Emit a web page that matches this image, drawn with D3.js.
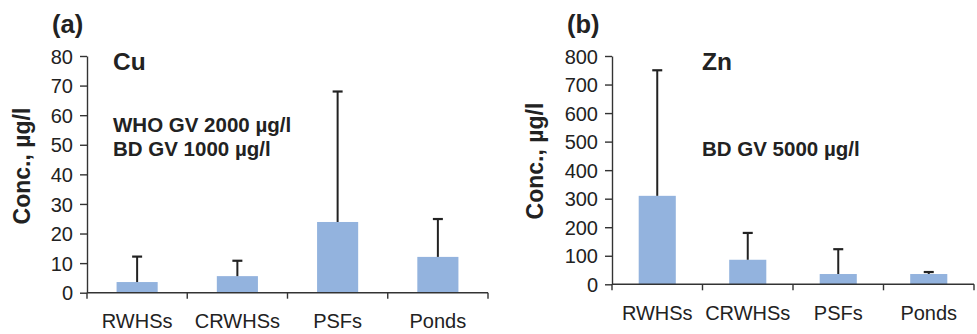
<!DOCTYPE html>
<html>
<head>
<meta charset="utf-8">
<script src="https://cdn.jsdelivr.net/npm/d3@7"></script>
<style>
  body { margin: 0; background: #fff; }
  svg { display: block; font-family: "Liberation Sans", Arial, Helvetica, sans-serif; }
</style>
</head>
<body>
<svg id="chart" width="977" height="334"></svg>
<script>
const categories = ['RWHSs', 'CRWHSs', 'PSFs', 'Ponds'];

// Cu: mean and top of the error bar, µg/l
const cuMean = [3.6, 5.6, 23.9, 12.1];
const cuUpper = [12.2, 10.8, 68, 24.9];
const cuTicks = [0, 10, 20, 30, 40, 50, 60, 70, 80];

// Zn: mean and top of the error bar, µg/l
const znMean = [310, 86, 36, 36];
const znUpper = [750, 180, 123, 43];
const znTicks = [0, 100, 200, 300, 400, 500, 600, 700, 800];

const svg = d3.select('#chart');
const ink = '#222';
const barColor = '#93b3de';
const font = '"Liberation Sans", Arial, Helvetica, sans-serif';

function drawPanel(p) {
    const x = d3.scaleBand()
        .domain(categories)
        .range([p.left, p.right])
        .paddingInner(0.59)
        .paddingOuter(0.295);

    const y = d3.scaleLinear()
        .domain([0, p.ticks[p.ticks.length - 1]])
        .range([p.bottom, p.top]);

    const g = svg.append('g');

    // bars
    g.selectAll('rect.bar')
        .data(p.mean)
        .enter()
        .append('rect')
        .attr('class', 'bar')
        .attr('x', (d, i) => x(categories[i]))
        .attr('y', d => y(d))
        .attr('width', x.bandwidth())
        .attr('height', d => p.bottom - y(d))
        .attr('fill', barColor);

    // error bars (upper half only)
    const cx = i => x(categories[i]) + x.bandwidth() / 2;
    g.selectAll('line.err')
        .data(p.upper)
        .enter()
        .append('line')
        .attr('x1', (d, i) => cx(i))
        .attr('x2', (d, i) => cx(i))
        .attr('y1', (d, i) => y(p.mean[i]))
        .attr('y2', d => y(d))
        .attr('stroke', ink)
        .attr('stroke-width', 2);
    g.selectAll('line.cap')
        .data(p.upper)
        .enter()
        .append('line')
        .attr('x1', (d, i) => cx(i) - 5)
        .attr('x2', (d, i) => cx(i) + 5)
        .attr('y1', d => y(d))
        .attr('y2', d => y(d))
        .attr('stroke', ink)
        .attr('stroke-width', 2.2);

    // y axis
    const yAxis = d3.axisLeft(y)
        .tickValues(p.ticks)
        .tickSize(7)
        .tickSizeOuter(0)
        .tickPadding(7);
    const ya = g.append('g')
        .attr('transform', `translate(${p.left},0)`)
        .call(yAxis)
        .attr('font-family', font);
    ya.select('.domain').attr('stroke', '#333').attr('stroke-width', 1.4);
    ya.selectAll('.tick line').attr('stroke', '#333').attr('stroke-width', 1.4);
    ya.selectAll('.tick text')
        .attr('fill', ink)
        .style('font-size', '20px')
        .attr('dy', '0.36em');

    // x axis line and dividing ticks
    g.append('line')
        .attr('x1', p.left).attr('x2', p.right)
        .attr('y1', p.bottom).attr('y2', p.bottom)
        .attr('stroke', '#333').attr('stroke-width', 1.4);
    const edges = categories.map(c => x(c) - x.step() * x.paddingOuter())
        .concat([p.right]);
    g.selectAll('line.xt')
        .data(edges)
        .enter()
        .append('line')
        .attr('x1', d => d).attr('x2', d => d)
        .attr('y1', p.bottom).attr('y2', p.bottom + 6)
        .attr('stroke', '#333').attr('stroke-width', 1.4);

    g.selectAll('text.xl')
        .data(categories)
        .enter()
        .append('text')
        .attr('x', d => x(d) + x.bandwidth() / 2)
        .attr('y', p.bottom + p.labelGap)
        .attr('text-anchor', 'middle')
        .attr('fill', ink)
        .style('font-size', '20px')
        .text(d => d);

    // y title
    g.append('text')
        .attr('transform', `translate(${p.titleX},${p.titleY}) rotate(-90)`)
        .attr('text-anchor', 'middle')
        .attr('fill', ink)
        .style('font-size', '23px')
        .style('font-weight', 'bold')
        .text('Conc., µg/l');

    // panel tag, element name, notes
    g.append('text')
        .attr('x', p.tagX).attr('y', 33)
        .attr('fill', ink)
        .style('font-size', '25.5px').style('font-weight', 'bold')
        .text(p.tag);
    g.append('text')
        .attr('x', p.noteX).attr('y', 70)
        .attr('fill', ink)
        .style('font-size', '24.5px').style('font-weight', 'bold')
        .text(p.element);
    p.notes.forEach((n, i) => {
        g.append('text')
            .attr('x', p.noteX).attr('y', p.noteY + i * 23.5)
            .attr('fill', ink)
            .style('font-size', '20.5px').style('font-weight', 'bold')
            .text(n);
    });
}

drawPanel({
    left: 87, right: 488, top: 56, bottom: 292.7,
    mean: cuMean, upper: cuUpper, ticks: cuTicks,
    labelGap: 35, titleX: 29.5, titleY: 166,
    tag: '(a)', tagX: 52, element: 'Cu', noteX: 113,
    notes: ['WHO GV 2000 µg/l', 'BD GV 1000 µg/l'], noteY: 132
});

drawPanel({
    left: 612, right: 974, top: 56, bottom: 284.3,
    mean: znMean, upper: znUpper, ticks: znTicks,
    labelGap: 36, titleX: 543, titleY: 161,
    tag: '(b)', tagX: 567, element: 'Zn', noteX: 702,
    notes: ['BD GV 5000 µg/l'], noteY: 156
});
</script>
</body>
</html>
